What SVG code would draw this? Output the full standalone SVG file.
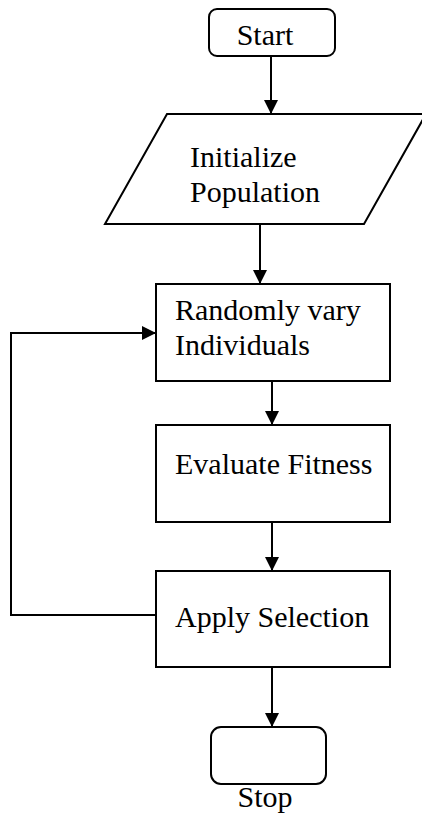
<svg xmlns="http://www.w3.org/2000/svg" width="422" height="815" viewBox="0 0 422 815">
<style>
.s{fill:#fff;stroke:#000;stroke-width:2}
.t{font-family:"Liberation Serif","Times New Roman",serif;font-size:30px;fill:#000}
.c{fill:none;stroke:#000;stroke-width:2}
</style>
<defs>
<marker id="a" markerWidth="14" markerHeight="14" refX="14" refY="7" orient="auto" markerUnits="userSpaceOnUse">
<path d="M0,0 L14,7 L0,14 Z" fill="#000"/>
</marker>
</defs>
<rect width="422" height="815" fill="#fff"/>
<g id="start">
<rect class="s" x="209" y="9" width="126" height="47" rx="8"/>
<text class="t" x="265" y="45" text-anchor="middle">Start</text>
</g>
<g id="init">
<polygon class="s" points="167,114 426,114 364,224 105,224"/>
<text class="t" x="190" y="167">Initialize</text>
<text class="t" x="190" y="202">Population</text>
</g>
<g id="vary">
<rect class="s" x="156" y="284" width="234" height="97"/>
<text class="t" x="175" y="320">Randomly vary</text>
<text class="t" x="175" y="355">Individuals</text>
</g>
<g id="evaluate">
<rect class="s" x="156" y="425" width="234" height="97"/>
<text class="t" x="175" y="474">Evaluate Fitness</text>
</g>
<g id="select">
<rect class="s" x="156" y="571" width="234" height="96"/>
<text class="t" x="175" y="627">Apply Selection</text>
</g>
<g id="stop">
<rect class="s" x="211" y="727" width="115" height="57" rx="10"/>
<text class="t" x="265" y="807" text-anchor="middle">Stop</text>
</g>
<g id="connectors">
<line class="c" x1="271" y1="56" x2="271" y2="114" marker-end="url(#a)"/>
<line class="c" x1="260" y1="224" x2="260" y2="284" marker-end="url(#a)"/>
<line class="c" x1="272" y1="381" x2="272" y2="425" marker-end="url(#a)"/>
<line class="c" x1="272" y1="522" x2="272" y2="571" marker-end="url(#a)"/>
<line class="c" x1="272" y1="667" x2="272" y2="727" marker-end="url(#a)"/>
<polyline class="c" points="156,615 11,615 11,333 156,333" marker-end="url(#a)"/>
</g>
</svg>
